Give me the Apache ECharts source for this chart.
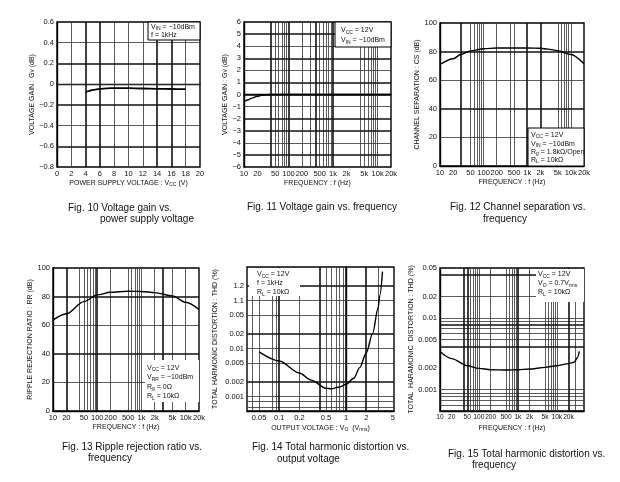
<!DOCTYPE html>
<html><head><meta charset="utf-8">
<script src="https://cdn.jsdelivr.net/npm/echarts@6/dist/echarts.min.js"></script>
<style>html,body{margin:0;padding:0;background:#fff}#c{width:620px;height:482px}</style>
</head><body><div id="c"></div>
<script>
// ---------- DATA ----------
// Fig. 10 Voltage gain vs. power supply voltage
const f10Vcc  = [4, 4.5, 5, 6, 7, 8, 10, 12, 14, 16, 18];
const f10Gain = [-0.08, -0.065, -0.055, -0.045, -0.04, -0.038, -0.038, -0.042, -0.045, -0.047, -0.048];
// Fig. 11 Voltage gain vs. frequency
const f11Freq = [10, 12, 15, 20, 25, 30, 40, 60, 100, 1000, 10000, 20000];
const f11Gain = [-0.6, -0.45, -0.3, -0.15, -0.07, -0.03, 0, 0, 0, 0, 0, 0];
// Fig. 12 Channel separation vs. frequency
const f12Freq = [10, 20, 30, 50, 100, 200, 500, 1000, 2000, 3000, 5000, 10000, 20000];
const f12CS   = [71, 75, 78, 80.5, 82, 82.5, 82.5, 82.5, 82.3, 81.7, 80.7, 78, 71.5];
// Fig. 13 Ripple rejection ratio vs. frequency
const f13Freq = [10, 20, 50, 100, 200, 500, 1000, 2000, 5000, 10000, 20000];
const f13RR   = [63.5, 68, 76.5, 81.2, 83, 83.7, 83.6, 82.8, 80.5, 76, 71];
// Fig. 14 THD vs. output voltage
const f14Vo   = [0.05, 0.1, 0.2, 0.3, 0.5, 0.6, 0.8, 1, 1.3, 1.6, 2, 2.5, 3, 3.2, 3.5];
const f14THD  = [0.0085, 0.0055, 0.0031, 0.0022, 0.00149, 0.00145, 0.00158, 0.0018, 0.0024, 0.004, 0.0081, 0.021, 0.069, 0.13, 0.4];
// Fig. 15 THD vs. frequency
const f15Freq = [10, 20, 50, 100, 200, 500, 1000, 2000, 5000, 10000, 20000, 28000, 34000, 38000];
const f15THD  = [0.0034, 0.0027, 0.00215, 0.00197, 0.00189, 0.00187, 0.00189, 0.00193, 0.00204, 0.00215, 0.0023, 0.0024, 0.0028, 0.0034];

// ---------- TICKS ----------
const freqTicks  = [10, 20, 50, 100, 200, 500, 1000, 2000, 5000, 10000, 20000];
const freqLabels = ['10', '20', '50', '100', '200', '500', '1k', '2k', '5k', '10k', '20k'];
const voTicks    = [0.05, 0.1, 0.2, 0.5, 1, 2, 5];
const voLabels   = ['0.05', '0.1', '0.2', '0.5', '1', '2', '5'];
const thd14Ticks  = [0.001, 0.002, 0.005, 0.01, 0.02, 0.05, 0.1, 0.2];
const thd14Labels = ['0.001', '0.002', '0.005', '0.01', '0.02', '0.05', '1.1', '1.2'];
const thd15Ticks  = [0.001, 0.002, 0.005, 0.01, 0.02, 0.05];
const thd15Labels = ['0.001', '0.002', '0.005', '0.01', '0.02', '0.05'];

// ---------- GRID LINES (values) ----------
const g10 = {xM:[4,6,14,16], xm:[2,8,10,12,18], yM:[-0.2,-0.6,0.2], ym:[0.4,0,-0.4]};
const g11 = {xM:[40,100,400,1000], xm:[50,60,70,80,90,200,300,500,600,700,800,900,4000,5000,6000,7000,8000,9000,10000], yM:[5,3,1,0,-2,-3,-5], ym:[4,2,-1,-4]};
const g12 = {xM:[30,1000,2000], xm:[50,60,70,80,90,100,200,400,500,5000,6000,7000,8000,9000,10000], yM:[80,40], ym:[60,20]};
const g13 = {xM:[20,100,3000], xm:[40,50,60,70,80,90,200,500,600,700,800,900,1000,2000,5000,10000], yM:[80,40], ym:[60,20]};
const g14 = {xM:[0.1,0.4,1,2], xm:[0.04,0.05,0.08,0.09,0.2,0.5,0.6,0.7,0.8,0.9,3], yM:[0.2,0.02,0.002], ym:[0.1,0.05,0.01,0.005,0.001,0.0008,0.0006]};
const g15 = {xM:[40,50,1000,20000], xm:[60,70,80,90,100,200,500,600,700,800,900,2000,5000,6000,7000,8000,9000,10000,30000], yM:[0.04,0.008,0.004], ym:[0.02,0.01,0.009,0.007,0.006,0.005,0.001,0.0009,0.0008,0.0007,0.0006]};

// ---------- BUILD ----------
const FONT = 'Liberation Sans, Arial, Helvetica, sans-serif';
const L = Math.log10;
const id = v => v;
const MAJOR = {color:'#111', width:1.6, type:'solid'};
const MINOR = {color:'#333', width:0.8, type:'solid'};
const RICH = {s:{fontSize:5, verticalAlign:'bottom', fontFamily:FONT, color:'#111'}};
const nameStyle = {fontSize:7, color:'#111', fontFamily:FONT, rich:RICH};
const lblStyle = {fontSize:7.5, color:'#111', fontFamily:FONT, margin:3, hideOverlap:false};

const grids = [
  {left:57, top:22, width:143, height:145},
  {left:244, top:22, width:147, height:145},
  {left:440, top:23, width:144, height:143},
  {left:53, top:268, width:146, height:143},
  {left:247, top:267, width:147, height:144},
  {left:440, top:268, width:144, height:143}
].map(g => Object.assign(g, {show:true, borderColor:'#000', borderWidth:1.4, backgroundColor:'#fff'}));

function nearest(arr, v){ let b=0; arr.forEach((t,i)=>{ if(Math.abs(t-v)<Math.abs(arr[b]-v)) b=i; }); return b; }
const fmtMinus = v => String(v).replace('-', '−');

function logAxis(gi, min, max, ticks, labels, name, gap, fs){
  const tv = ticks.map(L);
  const ls = Object.assign({customValues:tv, formatter:v => labels[nearest(tv, v)]}, lblStyle);
  if (fs) ls.fontSize = fs;
  return {type:'value', gridIndex:gi, min:L(min), max:L(max),
    splitLine:{show:false}, axisTick:{show:false, customValues:tv},
    axisLine:{show:true, lineStyle:{color:'#000', width:1.4}},
    axisLabel:ls,
    name:name, nameLocation:'middle', nameGap:gap, nameTextStyle:nameStyle};
}
function linAxis(gi, min, max, interval, fmt, name, gap){
  return {type:'value', gridIndex:gi, min:min, max:max, interval:interval,
    splitLine:{show:false}, axisTick:{show:false},
    axisLine:{show:true, lineStyle:{color:'#000', width:1.4}},
    axisLabel:Object.assign({formatter:fmt}, lblStyle),
    name:name, nameLocation:'middle', nameGap:gap, nameTextStyle:nameStyle};
}

const xAxes = [
  linAxis(0, 0, 20, 2, v => String(v), 'POWER SUPPLY VOLTAGE : V{s|CC} (V)', 13),
  logAxis(1, 10, 20000, freqTicks, freqLabels, 'FREQUENCY : f (Hz)', 13),
  logAxis(2, 10, 20000, freqTicks, freqLabels, 'FREQUENCY : f (Hz)', 13),
  logAxis(3, 10, 20000, freqTicks, freqLabels, 'FREQUENCY : f (Hz)', 13),
  logAxis(4, 0.033, 5.2, voTicks, voLabels, 'OUTPUT VOLTAGE : V{s|O}  (V{s|rms})', 14),
  logAxis(5, 10, 50000, freqTicks, freqLabels, 'FREQUENCY : f (Hz)', 14, 6.6)
];
const yAxes = [
  linAxis(0, -0.8, 0.6, 0.2, v => Math.abs(v) < 1e-9 ? '0' : fmtMinus(v.toFixed(1)), 'VOLTAGE GAIN : G{s|V} (dB)', 16),
  linAxis(1, -6, 6, 1, v => fmtMinus(v), 'VOLTAGE GAIN : G{s|V} (dB)', 14),
  linAxis(2, 0, 100, 20, v => String(v), 'CHANNEL SEPARATION : CS (dB)', 18),
  linAxis(3, 0, 100, 20, v => String(v), 'RIPPLE REJECTION RATIO : RR (dB)', 16),
  logAxis(4, 0.0005, 0.5, thd14Ticks, thd14Labels, 'TOTAL HARMONIC DISTORTION : THD (%)', 28),
  logAxis(5, 0.0005, 0.05, thd15Ticks, thd15Labels, 'TOTAL  HARAMONIC  DISTORTION : THD (%)', 18)
];

function gridSeries(gi, g, tx, ty){
  const d = [];
  g.xm.forEach(v => d.push({xAxis:tx(v), lineStyle:MINOR}));
  g.ym.forEach(v => d.push({yAxis:ty(v), lineStyle:MINOR}));
  g.xM.forEach(v => d.push({xAxis:tx(v), lineStyle:MAJOR}));
  g.yM.forEach(v => d.push({yAxis:ty(v), lineStyle:MAJOR}));
  return {type:'line', xAxisIndex:gi, yAxisIndex:gi, data:[], z:1, silent:true,
    markLine:{silent:true, symbol:'none', label:{show:false}, animation:false, emphasis:{disabled:true}, data:d}};
}
function curve(gi, xs, ys, tx, ty, w){
  return {type:'line', xAxisIndex:gi, yAxisIndex:gi, z:5, silent:true, animation:false,
    showSymbol:false, symbol:'none', smooth:0.3, smoothMonotone:'x',
    lineStyle:{color:'#000', width:w||1.4},
    data: xs.map((x,i) => [tx(x), ty(ys[i])])};
}

const series = [
  gridSeries(0, g10, id, id), curve(0, f10Vcc, f10Gain, id, id, 1.8),
  gridSeries(1, g11, L, id),  curve(1, f11Freq, f11Gain, L, id),
  gridSeries(2, g12, L, id),  curve(2, f12Freq, f12CS, L, id),
  gridSeries(3, g13, L, id),  curve(3, f13Freq, f13RR, L, id),
  gridSeries(4, g14, L, L),   curve(4, f14Vo, f14THD, L, L),
  gridSeries(5, g15, L, L),   curve(5, f15Freq, f15THD, L, L)
];

// ---------- ANNOTATIONS ----------
function note(x, y, lh, text){
  return {type:'text', z:101, x:x, y:y, style:{text:text, fill:'#111', fontSize:7, fontFamily:FONT, lineHeight:lh, verticalAlign:'top', rich:RICH}};
}
function box(x, y, w, h, border){
  return {type:'rect', z:100, shape:{x:x, y:y, width:w, height:h}, style:{fill:'#fff', stroke:border ? '#000' : null, lineWidth:border ? 1 : 0}};
}
function cap(x, y, text){
  return {type:'text', z:101, x:x, y:y, style:{text:text, fill:'#111', fontSize:10, fontFamily:FONT, verticalAlign:'middle'}};
}
const graphic = [
  box(148, 22, 52, 18, true),  note(151, 23, 8, 'V{s|IN} = −10dBm\nf = 1kHz'),
  box(335, 22, 56, 25, true),  note(341, 25, 10, 'V{s|CC} = 12V\nV{s|IN} = −10dBm'),
  box(528, 128, 56, 38, true), note(531, 131, 8.4, 'V{s|CC} = 12V\nV{s|IN} = −10dBm\nR{s|g} = 1.8kΩ/Open\nR{s|L} = 10kΩ'),
  box(145, 360, 54, 42, false), note(147, 363, 9.5, 'V{s|CC} = 12V\nV{s|RR} = −10dBm\nR{s|g} = 0Ω\nR{s|L} = 10kΩ'),
  box(249, 268, 51, 28, false), note(257, 270, 9, 'V{s|CC} = 12V\nf = 1kHz\nR{s|L} = 10kΩ'),
  box(536, 269, 48, 33, false), note(538, 270, 9, 'V{s|CC} = 12V\nV{s|O} = 0.7V{s|rms}\nR{s|L} = 10kΩ'),
  cap(68, 208, 'Fig. 10 Voltage gain vs.'), cap(100, 219, 'power supply voltage'),
  cap(247, 207, 'Fig. 11 Voltage gain vs. frequency'),
  cap(450, 207, 'Fig. 12 Channel separation vs.'), cap(483, 219, 'frequency'),
  cap(62, 447, 'Fig. 13 Ripple rejection ratio vs.'), cap(88, 458, 'frequency'),
  cap(252, 447, 'Fig. 14 Total harmonic distortion vs.'), cap(277, 459, 'output voltage'),
  cap(448, 454, 'Fig. 15 Total harmonic distortion vs.'), cap(472, 465, 'frequency')
];

const chart = echarts.init(document.getElementById('c'), null, {renderer:'canvas'});
chart.setOption({animation:false, backgroundColor:'#fff', grid:grids, xAxis:xAxes, yAxis:yAxes, series:series, graphic:graphic});
</script></body></html>
